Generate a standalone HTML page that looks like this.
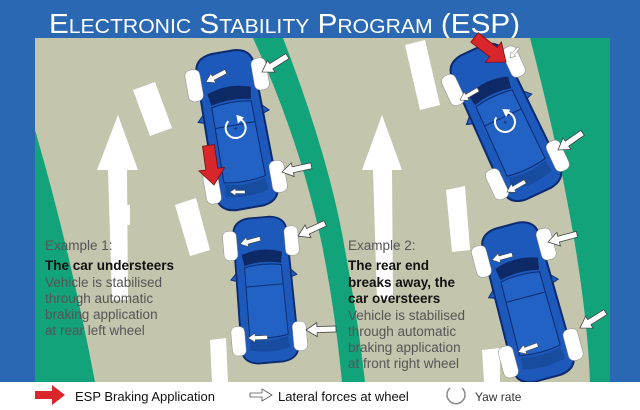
<!DOCTYPE html>
<html><head><meta charset="utf-8"><style>
html,body{margin:0;padding:0;background:#2b68b3;}
svg{display:block}
</style></head><body>
<svg width="640" height="410" viewBox="0 0 640 410" xmlns="http://www.w3.org/2000/svg">
<defs>
<g id="car">
  <path d="M-29,-62 Q-29,-77 -12,-79 L12,-79 Q29,-77 29,-62 L31,62 Q31,77 14,79 L-14,79 Q-31,77 -31,62 Z" fill="#1d58bb" stroke="#0c2a6e" stroke-width="2"/>
  <path d="M-22,-40 Q0,-48 22,-40 L20,-28 Q0,-33 -20,-28 Z" fill="#0d2a66"/>
  <path d="M-20,-26 Q0,-30 20,-26 L21,50 Q0,54 -21,50 Z" fill="#2262c4" stroke="#0c2a6e" stroke-width="1"/>
  <line x1="-20" y1="-5" x2="20" y2="-5" stroke="#0c2a6e" stroke-width="1"/>
  <path d="M-20,52 Q0,58 20,52 L22,64 Q0,70 -22,64 Z" fill="#174c9e"/>
  <path d="M-30,-20 L-36,-14 L-30,-12 Z M30,-20 L36,-14 L30,-12 Z" fill="#1f5fc0" stroke="#0c2a6e" stroke-width="1"/>
  <rect x="-41" y="-67" width="15" height="32" rx="6" fill="#fff" stroke="#888" stroke-width="0.5"/>
  <rect x="26" y="-67" width="15" height="32" rx="6" fill="#fff" stroke="#888" stroke-width="0.5"/>
  <rect x="-41" y="37" width="15" height="32" rx="6" fill="#fff" stroke="#888" stroke-width="0.5"/>
  <rect x="26" y="37" width="15" height="32" rx="6" fill="#fff" stroke="#888" stroke-width="0.5"/>
</g>
<polygon id="wa" points="-30,-3 -11,-3 -11,-7 0,0 -11,7 -11,3 -30,3" fill="#fff" stroke="#444" stroke-width="0.8"/>
<polygon id="ra" points="-40,-6 -16,-6 -16,-13 0,0 -16,13 -16,6 -40,6" fill="#d9262a" stroke="#7a0d10" stroke-width="0.8"/>
<g id="yaw"><path d="M-6,-8 A10,10 0 1 0 6,-8" fill="none" stroke="#fff" stroke-width="2"/><polygon points="3,-13 10,-9 3,-4" fill="#fff"/><text x="0" y="3" font-size="8" fill="#0c2a6e" text-anchor="middle" font-family="Liberation Sans">+</text></g>
</defs>
<rect width="640" height="410" fill="#2b68b3"/>
<text x="49" y="33" fill="#fff" font-family="Liberation Sans, sans-serif" font-size="28" style="font-variant:small-caps" textLength="471" lengthAdjust="spacingAndGlyphs">Electronic Stability Program (ESP)</text>
<rect x="35" y="38" width="575" height="344" fill="#c3c5ad"/>
<!-- green -->
<path d="M35,130 Q70,250 95,382 L35,382 Z" fill="#12a37b"/>
<path d="M253,38 L283,38 Q330,160 345,250 Q358,320 365,382 L342,382 Q335,310 322,245 Q300,140 253,38 Z" fill="#12a37b"/>
<path d="M530,38 L610,38 L610,382 L590,382 Q585,250 530,38 Z" fill="#12a37b"/>
<!-- lane dashes -->
<polygon points="133,90 155,82 172,128 150,136" fill="#fff"/>
<polygon points="175,205 196,198 210,250 190,256" fill="#fff"/>
<polygon points="210,340 226,338 228,382 212,382" fill="#fff"/>
<polygon points="405,45 425,40 440,105 420,110" fill="#fff"/>
<polygon points="446,190 465,186 470,250 452,252" fill="#fff"/>
<polygon points="482,350 500,348 500,382 484,382" fill="#fff"/>
<polygon points="118,205 130,205 130,225 120,225" fill="#fff"/>
<!-- big arrows -->
<polygon points="118,115 97,170 108,170 112,300 128,300 127,170 138,170" fill="#fff"/>
<polygon points="382,115 362,170 373,170 377,300 393,300 392,170 402,170" fill="#fff"/>
<!-- cars -->
<g transform="translate(236,130) rotate(-10)"><use href="#car"/><use href="#yaw" x="0" y="-2"/></g>
<g transform="translate(265,290) rotate(-5) scale(0.92)"><use href="#car"/></g>
<g transform="translate(505,122) rotate(-25)"><use href="#car"/><use href="#yaw" x="0" y="0"/></g>
<g transform="translate(527,302) rotate(-15)"><use href="#car"/></g>
<!-- car1 arrows -->
<use href="#wa" transform="translate(262,72) rotate(148)"/>
<use href="#wa" transform="translate(206,82) rotate(152) scale(0.75)"/>
<use href="#wa" transform="translate(282,172) rotate(168)"/>
<use href="#wa" transform="translate(230,192) rotate(180) scale(0.5)"/>
<use href="#ra" transform="translate(214,185) rotate(82)"/>
<!-- car2 arrows -->
<use href="#wa" transform="translate(298,236) rotate(155)"/>
<use href="#wa" transform="translate(240,244) rotate(165) scale(0.7)"/>
<use href="#wa" transform="translate(306,330) rotate(178)"/>
<use href="#wa" transform="translate(248,338) rotate(178) scale(0.65)"/>
<!-- car3 arrows -->
<use href="#ra" transform="translate(506,62) rotate(38)"/>
<use href="#wa" transform="translate(510,58) rotate(130) scale(0.45)"/>
<use href="#wa" transform="translate(460,100) rotate(150) scale(0.7)"/>
<use href="#wa" transform="translate(558,150) rotate(145)"/>
<use href="#wa" transform="translate(507,192) rotate(150) scale(0.7)"/>
<!-- car4 arrows -->
<use href="#wa" transform="translate(548,242) rotate(165)"/>
<use href="#wa" transform="translate(492,260) rotate(165) scale(0.7)"/>
<use href="#wa" transform="translate(580,328) rotate(148)"/>
<use href="#wa" transform="translate(518,352) rotate(160) scale(0.7)"/>
<!-- texts -->
<g font-family="Liberation Sans, sans-serif" font-size="13.5" fill="#555">
<text x="45" y="250">Example 1:</text>
<text x="45" y="270" font-weight="bold" fill="#111">The car understeers</text>
<text x="45" y="287">Vehicle is stabilised</text>
<text x="45" y="303">through automatic</text>
<text x="45" y="319">braking application</text>
<text x="45" y="335">at rear left wheel</text>
<text x="348" y="250">Example 2:</text>
<text x="348" y="270" font-weight="bold" fill="#111">The rear end</text>
<text x="348" y="287" font-weight="bold" fill="#111">breaks away, the</text>
<text x="348" y="303" font-weight="bold" fill="#111">car oversteers</text>
<text x="348" y="320">Vehicle is stabilised</text>
<text x="348" y="336">through automatic</text>
<text x="348" y="352">braking application</text>
<text x="348" y="368">at front right wheel</text>
</g>
<!-- legend -->
<rect x="0" y="382" width="640" height="28" fill="#fff"/>
<polygon points="35,391 52,391 52,385 65,395 52,405 52,399 35,399" fill="#d9262a"/>
<text x="75" y="401" font-family="Liberation Sans, sans-serif" font-size="13" fill="#111">ESP Braking Application</text>
<polygon points="250,393 262,393 262,389 272,395 262,401 262,397 250,397" fill="#fff" stroke="#555" stroke-width="0.8"/>
<text x="278" y="401" font-family="Liberation Sans, sans-serif" font-size="13" fill="#111">Lateral forces at wheel</text>
<path d="M450,388 A9,9 0 1 0 462,388" fill="none" stroke="#888" stroke-width="1.5"/>
<text x="475" y="401" font-family="Liberation Sans, sans-serif" font-size="12" fill="#333">Yaw rate</text>
</svg>
</body></html>
